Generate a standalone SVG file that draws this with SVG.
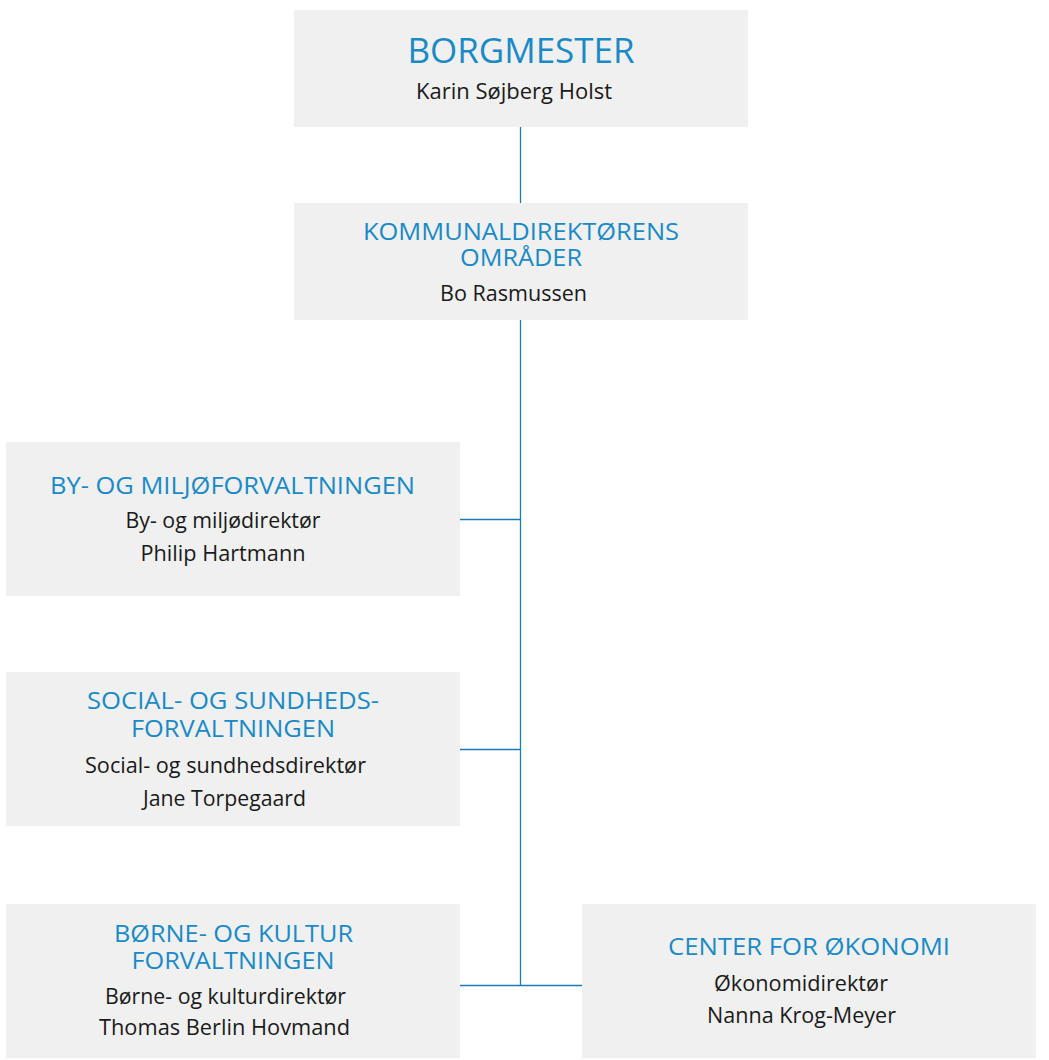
<svg xmlns="http://www.w3.org/2000/svg" width="1049" height="1060" viewBox="0 0 1049 1060">
<style>
.box{fill:#f0f0f0}
.t{font-family:"Open Sans","Noto Sans","Liberation Sans",sans-serif;fill:#1a8ac6;text-anchor:middle}
.s{font-family:"Open Sans","Noto Sans","Liberation Sans",sans-serif;fill:#1a1a1a;text-anchor:middle;font-size:21px}
.c{stroke:#1a7ab6;stroke-width:1.3;fill:none}
</style>
<rect width="1049" height="1060" fill="#ffffff"/>
<g id="connectors">
<line class="c" x1="520.5" y1="127" x2="520.5" y2="203"/>
<line class="c" x1="520.5" y1="320" x2="520.5" y2="985.5"/>
<line class="c" x1="460" y1="519.5" x2="520.5" y2="519.5"/>
<line class="c" x1="460" y1="749.5" x2="520.5" y2="749.5"/>
<line class="c" x1="460" y1="985.5" x2="582" y2="985.5"/>
</g>
<g id="borgmester">
<rect class="box" x="294" y="10" width="454" height="117"/>
<text class="t" x="521" y="63" font-size="34" textLength="227" lengthAdjust="spacingAndGlyphs">BORGMESTER</text>
<text class="s" x="514" y="99" textLength="196" lengthAdjust="spacingAndGlyphs">Karin Søjberg Holst</text>
</g>
<g id="kommunaldirektor">
<rect class="box" x="294" y="203" width="454" height="117"/>
<text class="t" x="521" y="240" font-size="23" textLength="316" lengthAdjust="spacingAndGlyphs">KOMMUNALDIREKTØRENS</text>
<text class="t" x="521" y="266" font-size="23" textLength="122" lengthAdjust="spacingAndGlyphs">OMRÅDER</text>
<text class="s" x="513.5" y="301" textLength="147" lengthAdjust="spacingAndGlyphs">Bo Rasmussen</text>
</g>
<g id="by-miljo">
<rect class="box" x="6" y="442" width="454" height="154"/>
<text class="t" x="232.5" y="494" font-size="23" textLength="365" lengthAdjust="spacingAndGlyphs">BY- OG MILJØFORVALTNINGEN</text>
<text class="s" x="223" y="528" textLength="195" lengthAdjust="spacingAndGlyphs">By- og miljødirektør</text>
<text class="s" x="223" y="561" textLength="165" lengthAdjust="spacingAndGlyphs">Philip Hartmann</text>
</g>
<g id="social-sundhed">
<rect class="box" x="6" y="672" width="454" height="154"/>
<text class="t" x="233" y="709" font-size="23" textLength="292" lengthAdjust="spacingAndGlyphs">SOCIAL- OG SUNDHEDS-</text>
<text class="t" x="233" y="737" font-size="23" textLength="204" lengthAdjust="spacingAndGlyphs">FORVALTNINGEN</text>
<text class="s" x="225.5" y="773" textLength="281" lengthAdjust="spacingAndGlyphs">Social- og sundhedsdirektør</text>
<text class="s" x="224.5" y="806" textLength="163" lengthAdjust="spacingAndGlyphs">Jane Torpegaard</text>
</g>
<g id="borne-kultur">
<rect class="box" x="6" y="904" width="454" height="154"/>
<text class="t" x="233.5" y="942" font-size="23" textLength="239" lengthAdjust="spacingAndGlyphs">BØRNE- OG KULTUR</text>
<text class="t" x="233" y="969" font-size="23" textLength="203" lengthAdjust="spacingAndGlyphs">FORVALTNINGEN</text>
<text class="s" x="225.5" y="1004" textLength="241" lengthAdjust="spacingAndGlyphs">Børne- og kulturdirektør</text>
<text class="s" x="224.5" y="1035" textLength="251" lengthAdjust="spacingAndGlyphs">Thomas Berlin Hovmand</text>
</g>
<g id="center-okonomi">
<rect class="box" x="582" y="904" width="454" height="154"/>
<text class="t" x="809" y="955" font-size="23" textLength="282" lengthAdjust="spacingAndGlyphs">CENTER FOR ØKONOMI</text>
<text class="s" x="801" y="991" textLength="174" lengthAdjust="spacingAndGlyphs">Økonomidirektør</text>
<text class="s" x="801.5" y="1023" textLength="189" lengthAdjust="spacingAndGlyphs">Nanna Krog-Meyer</text>
</g>
</svg>
